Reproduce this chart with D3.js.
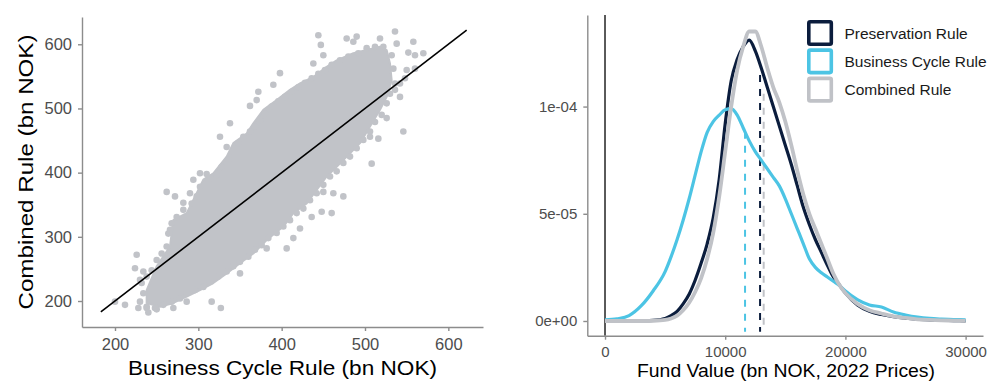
<!DOCTYPE html>
<html>
<head>
<meta charset="utf-8">
<script src="https://cdn.jsdelivr.net/npm/d3@7"></script>
<style>
  body { margin: 0; background: #fff; }
  svg { font-family: "Liberation Sans", Arial, sans-serif; }
  .axis path, .axis line { stroke: #8c8c8c; stroke-width: 1.4; }
  .axis text { fill: #4d4d4d; }
</style>
</head>
<body>
<div id="chart"></div>
<script>
// ---- left panel: simulated fund outcomes (bn NOK) ----
// outline of the dense point cloud, Business Cycle Rule (x) vs Combined Rule (y)
const cloudBusiness = [238, 250, 266, 270, 286, 298, 306, 318, 334, 342, 358, 366, 378, 394, 410, 422, 438, 454, 466, 486, 502, 518, 526,
  530, 532, 526, 518, 506, 494, 482, 466, 454, 442, 430, 414, 402, 382, 366, 350, 334, 318, 302, 286, 270, 254, 238];
const cloudCombined = [217, 254, 285, 326, 337, 368, 389, 399, 425, 446, 461, 477, 498, 513, 529, 539, 549, 565, 575, 586, 591, 596, 591,
  570, 544, 518, 498, 472, 446, 430, 409, 394, 373, 352, 337, 316, 295, 274, 259, 243, 228, 217, 207, 197, 191, 197];
// points sitting on the ragged rim of the cloud
const rimBusiness = [234, 232, 238, 244, 250, 256, 262, 264, 268, 274, 282, 292, 298, 302, 312, 322, 328, 336, 342, 348, 354, 362,
  368, 374, 380, 388, 396, 404, 412, 420, 428, 436, 444, 452, 460, 470, 480, 492, 502, 512, 522,
  532, 534, 536, 530, 526, 520, 512, 506, 498, 490, 482, 474, 466, 458, 450, 442, 434, 426, 418, 410, 402, 394,
  384, 376, 368, 360, 350, 342, 334, 324, 314, 306, 296, 286, 278, 268, 258, 248, 238, 230];
const rimCombined = [212, 228, 238, 248, 264, 274, 285, 305, 321, 331, 342, 352, 363, 378, 389, 396, 409, 420, 433, 446, 456, 464,
  472, 482, 492, 503, 511, 518, 526, 533, 540, 547, 554, 560, 568, 575, 581, 586, 594, 596, 596,
  583, 562, 539, 523, 508, 490, 479, 464, 451, 438, 425, 415, 402, 394, 381, 368, 357, 344, 337, 326, 316, 306,
  298, 287, 280, 269, 261, 254, 246, 238, 230, 222, 217, 212, 204, 199, 194, 189, 189, 199];
// points lying outside the dense cloud
const outBusiness = [444, 447, 478, 490, 486, 518, 536, 538, 558, 552, 570, 560, 450, 438, 398, 390, 372, 362, 370, 338, 326, 334,
  262, 272, 294, 290, 226, 224, 230, 212, 200, 228, 240, 250, 270, 286, 316, 327, 350, 382, 406, 414, 422, 436, 448, 460,
  474, 450, 462, 506, 516, 546, 508, 526, 542, 536, 542, 548, 550, 560, 302, 310, 282, 266, 234, 238];
const outCombined = [614, 599, 609, 612, 604, 609, 620, 601, 604, 587, 586, 583, 583, 570, 555, 537, 526, 504, 513, 477, 456, 440,
  370, 363, 389, 368, 272, 251, 233, 194, 199, 189, 182, 187, 189, 199, 199, 189, 243, 282, 282, 298, 313, 331, 339, 337,
  363, 370, 368, 456, 453, 464, 414, 485, 518, 529, 539, 547, 560, 562, 399, 398, 353, 311, 246, 191];
const refLine = [183, 622];
const scatterTicks = [200, 300, 400, 500, 600];

// ---- right panel: density of fund value (bn NOK, 2022 prices) ----
const fundValue = [0, 1000, 2000, 3000, 4000, 5000, 5500, 6000, 6500, 7000, 7500, 8000, 8500, 9000, 9500, 10000, 10500, 11000, 11500,
  12000, 12500, 13000, 13500, 14000, 14500, 15000, 15500, 16000, 16500, 17000, 17500, 18000, 18500, 19000, 19500, 20000,
  21000, 22000, 23000, 24000, 25000, 26000, 27000, 28000, 29000, 30000];
// densities in units of 1e-5
const densPreservation = [0, 0, 0, 0.01, 0.03, 0.12, 0.25, 0.45, 0.8, 1.25, 1.9, 2.7, 3.6, 4.8, 6.6, 9.2, 11.2, 12.2, 12.8,
  13.1, 12.6, 11.8, 10.9, 10.0, 9.1, 8.2, 7.3, 6.3, 5.3, 4.5, 3.8, 3.2, 2.6, 2.05, 1.68, 1.3,
  0.75, 0.45, 0.3, 0.2, 0.13, 0.08, 0.05, 0.03, 0.02, 0.01];
const densBusiness = [0.05, 0.1, 0.25, 0.7, 1.4, 2.3, 3.0, 3.8, 4.7, 5.7, 6.8, 7.9, 8.8, 9.3, 9.6, 9.85, 9.9, 9.6, 9.0,
  8.4, 7.9, 7.5, 7.1, 6.7, 6.3, 5.7, 5.0, 4.3, 3.6, 2.9, 2.5, 2.25, 2.05, 1.85, 1.65, 1.4,
  1.0, 0.75, 0.65, 0.42, 0.28, 0.18, 0.12, 0.09, 0.07, 0.05];
const densCombined = [0, 0, 0, 0, 0.01, 0.05, 0.12, 0.25, 0.5, 0.85, 1.35, 2.0, 2.9, 4.1, 5.8, 7.9, 10.0, 11.7, 12.8,
  13.5, 13.5, 12.8, 11.8, 10.9, 10.2, 9.3, 8.2, 7.0, 5.9, 5.0, 4.3, 3.6, 2.9, 2.2, 1.68, 1.3,
  0.8, 0.5, 0.35, 0.22, 0.14, 0.08, 0.05, 0.03, 0.02, 0.01];
const ruleNames = ["Preservation Rule", "Business Cycle Rule", "Combined Rule"];
const ruleColors = ["#0b1d3d", "#4cc4e4", "#c0c2c7"];
const meanValue = [12900, 11650, 13200];
const meanTop = [11.47, 8.83, 10.6];
const densTicks = [0, 5e-5, 1e-4];
const densTickLabels = ["0e+00", "5e-05", "1e-04"];
const fundTicks = [0, 10000, 20000, 30000];

const svg = d3.select("#chart").append("svg")
  .attr("width", 987)
  .attr("height", 381);

// ===== scatter panel =====
const xS = d3.scaleLinear().domain([160.4, 641.6]).range([82, 483]);
const yS = d3.scaleLinear().domain([159.5, 642.5]).range([327, 17]);
const pointColor = "#c1c3c8";

const cloud = cloudBusiness.map((b, i) => [b, cloudCombined[i]]);
svg.append("path")
  .datum(cloud)
  .attr("d", d3.line().x(d => xS(d[0])).y(d => yS(d[1])).curve(d3.curveLinearClosed))
  .attr("fill", pointColor)
  .attr("stroke", pointColor)
  .attr("stroke-width", 2)
  .attr("stroke-linejoin", "round");

const pts = rimBusiness.map((b, i) => [b, rimCombined[i]])
  .concat(outBusiness.map((b, i) => [b, outCombined[i]]));
svg.selectAll(".pt")
  .data(pts)
  .enter()
  .append("circle")
  .attr("class", "pt")
  .attr("cx", d => xS(d[0]))
  .attr("cy", d => yS(d[1]))
  .attr("r", 3.3)
  .attr("fill", pointColor);

svg.append("line")
  .attr("x1", xS(refLine[0])).attr("y1", yS(refLine[0]))
  .attr("x2", xS(refLine[1])).attr("y2", yS(refLine[1]))
  .attr("stroke", "#000")
  .attr("stroke-width", 1.6);

svg.append("g")
  .attr("class", "axis")
  .attr("transform", "translate(0,327)")
  .call(d3.axisBottom(xS).tickValues(scatterTicks).tickSize(4).tickSizeOuter(0).tickPadding(7))
  .selectAll("text").style("font-size", "16.5px");

svg.append("g")
  .attr("class", "axis")
  .attr("transform", "translate(82,0)")
  .call(d3.axisLeft(yS).tickValues(scatterTicks).tickSize(4).tickSizeOuter(0).tickPadding(6))
  .selectAll("text").style("font-size", "16.5px");

svg.append("text")
  .attr("x", 282.5).attr("y", 375)
  .attr("text-anchor", "middle")
  .attr("textLength", 309).attr("lengthAdjust", "spacingAndGlyphs")
  .style("font-size", "21px")
  .text("Business Cycle Rule (bn NOK)");

svg.append("text")
  .attr("transform", "translate(33,172) rotate(-90)")
  .attr("text-anchor", "middle")
  .attr("textLength", 275).attr("lengthAdjust", "spacingAndGlyphs")
  .style("font-size", "21px")
  .text("Combined Rule (bn NOK)");

// ===== density panel =====
const xD = d3.scaleLinear().domain([-1473, 31447]).range([587.3, 983]);
const yD = d3.scaleLinear().domain([-6.86e-6, 1.427e-4]).range([335.7, 15]);

// mean lines
svg.selectAll(".mean")
  .data(meanValue)
  .enter()
  .append("line")
  .attr("class", "mean")
  .attr("x1", d => xD(d)).attr("x2", d => xD(d))
  .attr("y1", (d, i) => yD(meanTop[i] * 1e-5))
  .attr("y2", yD(-5e-6))
  .attr("stroke", (d, i) => ruleColors[i])
  .attr("stroke-width", 2)
  .attr("stroke-dasharray", "7,7");

// zero line
svg.append("line")
  .attr("x1", xD(0)).attr("x2", xD(0))
  .attr("y1", 15).attr("y2", 335.7)
  .attr("stroke", "#000")
  .attr("stroke-width", 1.3);

const series = [densPreservation, densBusiness, densCombined];
const densLine = d3.line()
  .x((d, i) => xD(fundValue[i]))
  .y(d => yD(d * 1e-5))
  .curve(d3.curveMonotoneX);

svg.selectAll(".dens")
  .data(series)
  .enter()
  .append("path")
  .attr("class", "dens")
  .attr("d", d => densLine(d))
  .attr("fill", "none")
  .attr("stroke", (d, i) => ruleColors[i])
  .attr("stroke-width", (d, i) => i === 2 ? 3.8 : 3.2)
  .attr("stroke-linejoin", "round");

svg.append("g")
  .attr("class", "axis")
  .attr("transform", "translate(0,335.7)")
  .call(d3.axisBottom(xD).tickValues(fundTicks).tickFormat(d3.format("d")).tickSize(4).tickSizeOuter(0).tickPadding(7))
  .selectAll("text").style("font-size", "15px");

svg.append("g")
  .attr("class", "axis")
  .attr("transform", "translate(587.3,0)")
  .call(d3.axisLeft(yD).tickValues(densTicks).tickFormat((d, i) => densTickLabels[i]).tickSize(4).tickSizeOuter(0).tickPadding(6))
  .selectAll("text").style("font-size", "15px");

svg.append("text")
  .attr("x", 786).attr("y", 376.5)
  .attr("text-anchor", "middle")
  .attr("textLength", 298).attr("lengthAdjust", "spacingAndGlyphs")
  .style("font-size", "17.5px")
  .text("Fund Value (bn NOK, 2022 Prices)");

// legend
const legend = svg.append("g").attr("transform", "translate(807,20)");
const rows = legend.selectAll("g")
  .data(ruleNames)
  .enter()
  .append("g")
  .attr("transform", (d, i) => `translate(0,${i * 28.3})`);
rows.append("rect")
  .attr("x", 1.8).attr("y", 1.8)
  .attr("width", 22.5).attr("height", 22.5)
  .attr("rx", 1.5)
  .attr("fill", "#fff")
  .attr("stroke", (d, i) => ruleColors[i])
  .attr("stroke-width", 3.6);
rows.append("text")
  .attr("x", 37.5).attr("y", 18.5)
  .style("font-size", "15.5px")
  .attr("fill", "#1a1a1a")
  .text(d => d);
</script>
</body>
</html>
